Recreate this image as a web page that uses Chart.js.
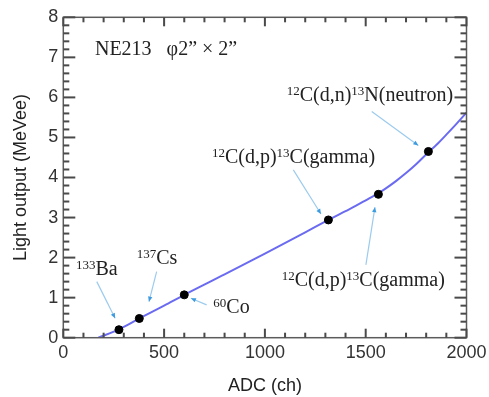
<!DOCTYPE html>
<html>
<head>
<meta charset="utf-8">
<script src="https://cdn.jsdelivr.net/npm/chart.js@4/dist/chart.umd.min.js"></script>
<style>
  html, body { margin: 0; padding: 0; background: #fff; }
  #wrap { width: 489px; height: 397px; }
</style>
</head>
<body>
<div id="wrap"><canvas id="lightChart" width="489" height="397"></canvas></div>
<script>
// calibration fit (ADC channel -> light output)
const fitAdc = [174, 276, 377, 500, 600, 800, 1000, 1200, 1315, 1400, 1450, 1500, 1563, 1600, 1650, 1700, 1750, 1811, 1850, 1900, 1950, 2000];
const fitLight = [0, 0.21, 0.48, 0.80, 1.07, 1.58, 2.10, 2.63, 2.94, 3.16, 3.29, 3.43, 3.61, 3.73, 3.91, 4.11, 4.33, 4.63, 4.81, 5.07, 5.34, 5.62];

// measured Compton edges / peaks
const pointAdc = [276, 377, 600, 1315, 1563, 1811];
const pointLight = [0.20, 0.48, 1.07, 2.94, 3.58, 4.65];

const xTickLabels = [0, 500, 1000, 1500, 2000];
const yTickLabels = [0, 1, 2, 3, 4, 5, 6, 7, 8];
const xMinorStep = 100;
const yMinorStep = 0.2;

// source labels: text pieces [text, superscript], left x, baseline y (data units)
const sourceLabels = [
  { parts: [['NE213   φ2” × 2”', false]], x: 157, y: 7.05 },
  { parts: [['12', true], ['C(d,n)', false], ['13', true], ['N(neutron)', false]], x: 1108, y: 5.90 },
  { parts: [['12', true], ['C(d,p)', false], ['13', true], ['C(gamma)', false]], x: 737, y: 4.36 },
  { parts: [['12', true], ['C(d,p)', false], ['13', true], ['C(gamma)', false]], x: 1083, y: 1.29 },
  { parts: [['133', true], ['Ba', false]], x: 63, y: 1.57 },
  { parts: [['137', true], ['Cs', false]], x: 364, y: 1.84 },
  { parts: [['60', true], ['Co', false]], x: 744, y: 0.625 }
];

// arrows from label to point: [x0, y0, x1, y1]
const arrows = [
  [166, 1.40, 257, 0.485],
  [463, 1.65, 425, 0.90],
  [711, 0.82, 633, 0.985],
  [1530, 5.65, 1761, 4.80],
  [1141, 4.19, 1278, 3.09],
  [1501, 1.82, 1546, 3.26]
];

const isWhole = v => Math.abs(v - Math.round(v)) < 1e-6;

function drawRich(ctx, parts, x, y) {
  let cx = x;
  for (const [text, sup] of parts) {
    ctx.font = sup ? '13px "Liberation Serif", serif' : '20px "Liberation Serif", serif';
    ctx.fillText(text, cx, sup ? y - 6 : y);
    cx += ctx.measureText(text).width;
  }
}

function drawArrow(ctx, x0, y0, x1, y1) {
  ctx.strokeStyle = '#9ccbee';
  ctx.lineWidth = 1.2;
  ctx.beginPath();
  ctx.moveTo(x0, y0);
  ctx.lineTo(x1, y1);
  ctx.stroke();
  const a = Math.atan2(y1 - y0, x1 - x0);
  const len = 5, w = 2.2;
  ctx.fillStyle = '#3d9be0';
  ctx.beginPath();
  ctx.moveTo(x1, y1);
  ctx.lineTo(x1 - len * Math.cos(a) + w * Math.sin(a), y1 - len * Math.sin(a) - w * Math.cos(a));
  ctx.lineTo(x1 - len * Math.cos(a) - w * Math.sin(a), y1 - len * Math.sin(a) + w * Math.cos(a));
  ctx.closePath();
  ctx.fill();
}

// frame and inward ticks on all four sides
function drawFrame(ctx, a, x, y) {
  ctx.strokeStyle = '#5c5c5c';
  ctx.lineWidth = 1.5;
  ctx.strokeRect(a.left, a.top, a.right - a.left, a.bottom - a.top);

  ctx.fillStyle = '#4a4a4a';
  const ny = Math.round((y.max - y.min) / yMinorStep);
  for (let i = 0; i <= ny; i++) {
    const v = y.min + i * yMinorStep;
    const py = y.getPixelForValue(v);
    const len = isWhole(v) ? 12 : 6;
    ctx.fillRect(a.left, py - 1, len, 2);
    ctx.fillRect(a.right - len, py - 1, len, 2);
  }
  const nx = Math.round((x.max - x.min) / xMinorStep);
  for (let i = 0; i <= nx; i++) {
    const v = x.min + i * xMinorStep;
    const px = x.getPixelForValue(v);
    const len = v % 500 === 0 ? 9 : 5;
    ctx.fillRect(px - 1, a.bottom - len, 2, len);
    ctx.fillRect(px - 1, a.top, 2, len);
  }
}

const decorations = {
  id: 'decorations',
  afterDraw(chart) {
    const { ctx, chartArea: a } = chart;
    const x = chart.scales.x, y = chart.scales.y;
    ctx.save();
    drawFrame(ctx, a, x, y);

    for (const [x0, y0, x1, y1] of arrows) {
      drawArrow(ctx, x.getPixelForValue(x0), y.getPixelForValue(y0),
                x.getPixelForValue(x1), y.getPixelForValue(y1));
    }

    ctx.fillStyle = '#222';
    ctx.textBaseline = 'alphabetic';
    ctx.textAlign = 'left';
    for (const lab of sourceLabels) {
      drawRich(ctx, lab.parts, x.getPixelForValue(lab.x), y.getPixelForValue(lab.y));
    }
    ctx.restore();
  }
};

new Chart(document.getElementById('lightChart'), {
  type: 'scatter',
  data: {
    datasets: [
      {
        type: 'line',
        label: 'fit',
        data: fitAdc.map((v, i) => ({ x: v, y: fitLight[i] })),
        borderColor: '#6b6bf2',
        borderWidth: 2,
        pointRadius: 0,
        cubicInterpolationMode: 'monotone',
        fill: false,
        order: 2
      },
      {
        label: 'data',
        data: pointAdc.map((v, i) => ({ x: v, y: pointLight[i] })),
        backgroundColor: '#000',
        borderColor: '#000',
        pointRadius: 4,
        order: 1
      }
    ]
  },
  options: {
    responsive: false,
    animation: false,
    layout: { padding: { left: 0, top: 17.3, right: 22.5, bottom: 0 } },
    plugins: { legend: { display: false }, tooltip: { enabled: false } },
    scales: {
      x: {
        type: 'linear',
        min: 0,
        max: 2000,
        afterFit: s => { s.height = 59.3; s.paddingLeft = 0; s.paddingRight = 0; },
        grid: { display: false, drawTicks: false },
        border: { display: false },
        ticks: {
          stepSize: 500,
          autoSkip: false,
          maxRotation: 0,
          padding: 5,
          color: '#333',
          font: { family: '"Liberation Sans", Arial, sans-serif', size: 18 },
          callback: v => xTickLabels.includes(v) ? v : ''
        },
        title: {
          display: true,
          text: 'ADC (ch)',
          color: '#222',
          padding: { top: 0, bottom: 0 },
          font: { family: '"Liberation Sans", Arial, sans-serif', size: 18 }
        }
      },
      y: {
        type: 'linear',
        min: 0,
        max: 8,
        afterFit: s => { s.width = 63.3; },
        grid: { display: false, drawTicks: false },
        border: { display: false },
        ticks: {
          stepSize: 1,
          autoSkip: false,
          padding: 5,
          color: '#333',
          font: { family: '"Liberation Sans", Arial, sans-serif', size: 18 },
          callback: v => yTickLabels.includes(v) ? v : ''
        },
        title: {
          display: true,
          text: 'Light output (MeVee)',
          color: '#222',
          padding: { top: 10, bottom: 0 },
          font: { family: '"Liberation Sans", Arial, sans-serif', size: 18 }
        }
      }
    }
  },
  plugins: [decorations]
});
</script>
</body>
</html>
